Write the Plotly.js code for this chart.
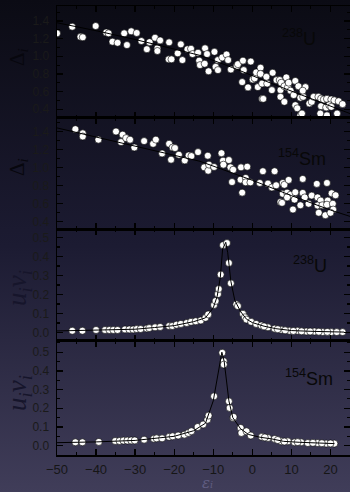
<!DOCTYPE html>
<html>
<head>
<meta charset="utf-8">
<script src="https://cdn.plot.ly/plotly-3.0.1.min.js"></script>
<style>
html,body{margin:0;padding:0;width:350px;height:492px;overflow:hidden;
background:linear-gradient(to bottom,#0b0b14 0%,#1c1b32 50%,#403d59 100%);}
#plot{width:350px;height:492px;}
</style>
</head>
<body>
<div id="plot"></div>
<script>
// Panel 1: 238U gap Delta_i vs single-particle energy
const uDeltaX = [-50,-46.1,-44.0,-43.4,-40.1,-37.4,-36.8,-35.8,-34.5,-32.8,-32.1,-31.0,-29.6,-28.4,-27.0,-26.3,-24.9,-24.3,-24.3,-23.6,-21.3,-21.4,-20.7,
 -19.1,-18.3,-17.9,-16.6,-15.7,-15.3,-13.9,-13.6,-13.4,-12.1,-11.6,-12.2,-11.2,-9.7,-9.4,-8.8,-8.8,-7.7,-6.6,-6.2,-5.5,-4.0,-3.7,-2.4,-0.4,-2.2,-2.6,
 -1.1,0.1,0.6,1.0,2.1,2.1,1.4,2.5,3.8,3.6,5.2,5.0,2.5,2.8,6.2,7.0,7.2,7.4,8.7,8.2,9.1,7.2,8.2,9.3,11.0,11.8,9.8,10.6,11.0,11.5,
 12.3,12.7,12.3,13.0,13.6,12.9,14.6,15.2,15.7,16.9,17.6,18.3,19.1,20.2,21.0,22.1,23.1,17.6,18.9,19.7,20.2,17.4,19.1,21.7];
const uDeltaY = [1.26,1.335,1.22,1.215,1.343,1.27,1.26,1.165,1.153,1.26,1.127,1.283,1.264,1.173,1.08,1.16,1.21,1.09,1.06,1.18,1.158,0.965,0.965,
 1.033,1.135,0.957,1.08,1.085,1.025,1.04,0.95,0.9,1.09,1.025,0.915,0.83,1.05,0.88,0.843,0.957,0.987,1.02,0.957,0.85,0.89,0.91,0.95,0.94,0.843,0.707,
 0.647,0.737,0.75,0.817,0.87,0.8,0.65,0.69,0.69,0.767,0.813,0.616,0.517,0.517,0.73,0.73,0.616,0.70,0.76,0.66,0.647,0.54,0.483,0.70,0.72,0.66,0.61,0.56,0.445,0.41,
 0.33,0.35,0.53,0.54,0.65,0.61,0.465,0.483,0.54,0.54,0.52,0.51,0.517,0.51,0.50,0.49,0.457,0.434,0.42,0.445,0.426,0.35,0.33,0.35];
const uDeltaLineX = [-50,-40,-30,-20,-13.4,-5,5,15,23,25];
const uDeltaLineY = [1.38,1.29,1.19,1.08,1.01,0.87,0.69,0.52,0.38,0.35];

// Panel 2: 154Sm gap
const smDeltaX = [-45.3,-43.4,-43.4,-39.4,-34.9,-33.2,-33.6,-32.3,-31.3,-30.2,-27.7,-25.4,-24.7,-23.1,-21.3,-20.4,-20.8,
 -19.8,-18.8,-17.3,-16.3,-15.6,-13.9,-11.4,-12.3,-11.3,-11.1,-9.8,-7.9,-7.5,-6.0,-7.4,-5.6,-4.9,-5.2,-2.9,-1.3,-3.0,-1.7,-1.7,
 -0.5,-2.6,1.9,2.7,4.0,5.0,5.7,6.1,7.8,8.2,9.3,7.8,8.9,9.8,11.0,7.2,7.6,8.9,10.8,12.3,
 10.4,12.9,12.9,13.4,14.4,15.2,16.7,16.5,19.1,17.5,19.3,16.7,17.9,19.1,20.3,21.3,20.6,20.7,17.0,18.7,20.0];
const smDeltaY = [1.426,1.38,1.345,1.31,1.40,1.365,1.283,1.327,1.31,1.223,1.294,1.264,1.31,1.157,1.264,1.223,1.088,
 1.217,1.143,1.08,1.135,1.128,1.172,1.132,1.003,0.966,1.033,1.007,1.16,1.077,1.084,1.033,1.003,0.977,0.84,1.003,1.01,0.867,0.886,0.837,
 0.837,0.723,0.83,0.96,0.823,0.78,0.96,0.804,0.83,0.81,0.864,0.71,0.723,0.70,0.727,0.62,0.61,0.67,0.646,0.583,
 0.536,0.875,0.72,0.67,0.60,0.69,0.67,0.82,0.83,0.635,0.635,0.58,0.583,0.59,0.716,0.694,0.60,0.536,0.50,0.473,0.50];
const smDeltaLineX = [-50,-40,-30,-20,-13.4,0,10,20,25];
const smDeltaLineY = [1.44,1.34,1.24,1.14,1.07,0.86,0.69,0.53,0.46];

// Panel 3: 238U pairing amplitude u_i v_i
const uUVX = [-46.1,-43.5,-40.0,-37.7,-36.6,-35.6,-34.5,-32.6,-31.5,-30.5,-29.6,-28.6,-27.0,-26.4,-24.9,-23.6,-21.3,-20.5,
 -19.4,-18.3,-16.8,-15.7,-14.5,-13.2,-12.0,-11.3,-9.8,-9.4,-8.8,-8.6,-8.1,-7.5,-6.5,-6.0,-5.5,-4.1,-3.7,-2.4,-1.9,-1.5,
 -0.3,1.0,2.3,4.0,5.7,7.4,9.5,11.6,13.8,15.9,18.0,20.2,23.1,3.0,6.5,8.4,10.5,12.6,14.8,17.0,19.2,21.6];
const uUVY = [0.009,0.009,0.013,0.013,0.013,0.013,0.013,0.016,0.016,0.016,0.018,0.018,0.021,0.023,0.027,0.029,0.034,0.034,
 0.041,0.045,0.05,0.056,0.059,0.063,0.077,0.095,0.145,0.166,0.202,0.229,0.305,0.46,0.471,0.366,0.259,0.148,0.139,0.098,0.08,0.068,
 0.056,0.045,0.037,0.027,0.02,0.014,0.009,0.009,0.005,0.005,0.002,0.002,0.002,0.032,0.017,0.011,0.008,0.006,0.005,0.004,0.003,0.002];
const uUVLineX = [-50,-40,-30,-25,-20,-15,-12,-10,-9,-8.2,-7.6,-6.8,-6.3,-5.5,-4.5,-3,-1.5,0,3,6,10,15,20,23.5];
const uUVLineY = [0.008,0.013,0.017,0.026,0.036,0.057,0.077,0.13,0.19,0.29,0.44,0.475,0.42,0.27,0.17,0.11,0.07,0.052,0.033,0.02,0.01,0.006,0.003,0.002];

// Panel 4: 154Sm pairing amplitude
const smUVX = [-45.3,-43.5,-39.3,-35.1,-34.0,-33.0,-32.0,-31.0,-30.1,-27.7,-25.2,-24.5,-23.1,-21.3,-20.4,-19.0,-17.4,-16.4,-15.6,
 -14.0,-12.6,-11.5,-11.2,-9.8,-7.7,-7.3,-7.3,-6.0,-5.8,-4.9,-4.8,-3.0,-2.8,-1.5,-0.4,2.4,4.0,5.7,7.4,9.1,10.8,12.5,14.2,16.7,18.9,21.0,
 3.2,6.5,8.2,11.6,15.5,17.8,20.0];
const smUVY = [0.018,0.018,0.02,0.025,0.025,0.027,0.027,0.028,0.028,0.032,0.037,0.039,0.039,0.047,0.05,0.054,0.059,0.068,0.077,
 0.10,0.113,0.139,0.161,0.264,0.497,0.452,0.434,0.237,0.202,0.148,0.154,0.095,0.068,0.077,0.054,0.047,0.041,0.036,0.023,0.023,0.018,0.018,0.014,0.014,0.011,0.011,
 0.044,0.030,0.022,0.019,0.015,0.013,0.012];
const smUVLineX = [-50,-40,-30,-25,-20,-15,-12,-10,-9,-7.8,-7.2,-6,-5,-3,-1,2,5,8,12,16,21];
const smUVLineY = [0.016,0.02,0.028,0.037,0.05,0.08,0.12,0.24,0.35,0.50,0.45,0.24,0.15,0.09,0.06,0.045,0.036,0.023,0.018,0.014,0.011];

const panelLabels = ['<sup>238</sup>U','<sup>154</sup>Sm','<sup>238</sup>U','<sup>154</sup>Sm'];
const yTitles = ['Δ<sub><i>i</i></sub>','Δ<sub><i>i</i></sub>','<i>u<sub>i</sub>v<sub>i</sub></i>','<i>u<sub>i</sub>v<sub>i</sub></i>'];
const xTitle = '<i>εᵢ</i>';
const xTickVals = [-50,-40,-30,-20,-10,0,10,20];

const mk = {color:'#ffffff', size:7, line:{color:'#000000', width:0.6}};
const ln = {color:'#000000', width:1};
function pts(x,y,ax){return {x:x,y:y,type:'scatter',mode:'markers',marker:mk,xaxis:'x'+ax,yaxis:'y'+ax,hoverinfo:'skip'};}
function line(x,y,ax){return {x:x,y:y,type:'scatter',mode:'lines',line:ln,xaxis:'x'+ax,yaxis:'y'+ax,hoverinfo:'skip'};}

const data = [
  pts(uDeltaX,uDeltaY,''), line(uDeltaLineX,uDeltaLineY,''),
  pts(smDeltaX,smDeltaY,'2'), line(smDeltaLineX,smDeltaLineY,'2'),
  pts(uUVX,uUVY,'3'), line(uUVLineX,uUVLineY,'3'),
  pts(smUVX,smUVY,'4'), line(smUVLineX,smUVLineY,'4')
];

const tickFont = {family:'Liberation Sans, Arial, sans-serif', size:12, color:'#1a1a1a'};
function xax(anchor, showLabels){
  return {range:[-50,25], anchor:anchor, showline:true, linecolor:'#000', linewidth:1.5, mirror:'allticks',
    ticks:'inside', ticklen:6, tickwidth:1.3, tickcolor:'#000', tickvals:xTickVals,
    minor:{ticks:'inside', ticklen:3, dtick:5, tick0:0, tickcolor:'#000', tickwidth:1.1},
    showgrid:false, zeroline:false, showticklabels:showLabels,
    tickfont:{family:'Liberation Sans, Arial, sans-serif', size:13, color:'#161616'}, ticklabelstandoff:2};
}
function yax(dom, rng, dt, anchor){
  return {domain:dom, range:rng, anchor:anchor, showline:true, linecolor:'#000', linewidth:1.5, mirror:'allticks',
    ticks:'inside', ticklen:6, tickwidth:1.3, tickcolor:'#000', dtick:dt, tick0:0, tickformat:'.1f',
    minor:{ticks:'inside', ticklen:3, dtick:dt/2, tick0:0, tickcolor:'#000', tickwidth:1.1},
    showgrid:false, zeroline:false, tickfont:tickFont, ticklabelstandoff:4};
}
const serif = 'Liberation Serif, DejaVu Serif, serif';
const sans = 'Liberation Sans, Arial, sans-serif';
const deltaFont = {family:serif, size:21, color:'#07070e'};
const uvFont = {family:serif, size:27, color:'#16152b'};

function px2x(px){return (px-57)/293;}
function px2y(py){return (455-py)/449;}

const annotations = [
  {text:panelLabels[0], x:px2x(318), y:px2y(38), xanchor:'right'},
  {text:panelLabels[1], x:px2x(328), y:px2y(157), xanchor:'right'},
  {text:panelLabels[2], x:px2x(329), y:px2y(264), xanchor:'right'},
  {text:panelLabels[3], x:px2x(335), y:px2y(377), xanchor:'right'}
].map(a => Object.assign({xref:'paper', yref:'paper', yanchor:'middle', showarrow:false, font:{family:sans, size:18, color:'#080808'}}, a));

annotations.push(
  {text:yTitles[0], x:px2x(18), y:px2y(57), textangle:-90, font:deltaFont},
  {text:yTitles[1], x:px2x(18), y:px2y(167), textangle:-90, font:deltaFont},
  {text:yTitles[2], x:px2x(19), y:px2y(288), textangle:-90, font:uvFont},
  {text:yTitles[3], x:px2x(19), y:px2y(393), textangle:-90, font:uvFont},
  {text:xTitle, x:px2x(207), y:px2y(483), font:{family:'DejaVu Serif, Liberation Serif, serif', size:15, color:'#615e82'}}
);
for (let i=4;i<annotations.length;i++){
  annotations[i] = Object.assign({xref:'paper', yref:'paper', xanchor:'center', yanchor:'middle', showarrow:false, borderpad:0}, annotations[i]);
}

const d1=[0.7506,1], d2=[0.5033,0.7506], d3=[0.2539,0.5033], d4=[0,0.2539];
const layout = {
  width:350, height:492, margin:{l:57, r:0, t:6, b:37},
  paper_bgcolor:'rgba(0,0,0,0)', plot_bgcolor:'rgba(0,0,0,0)', showlegend:false,
  xaxis: xax('y',false),
  xaxis2: xax('y2',false),
  xaxis3: xax('y3',false),
  xaxis4: xax('y4',true),
  yaxis: yax(d1,[0.3,1.57],0.2,'x'),
  yaxis2: yax(d2,[0.32,1.55],0.2,'x2'),
  yaxis3: yax(d3,[-0.045,0.545],0.1,'x3'),
  yaxis4: yax(d4,[-0.05,0.56],0.1,'x4'),
  annotations: annotations
};
Plotly.newPlot('plot', data, layout, {displayModeBar:false, staticPlot:true});
</script>
</body>
</html>
